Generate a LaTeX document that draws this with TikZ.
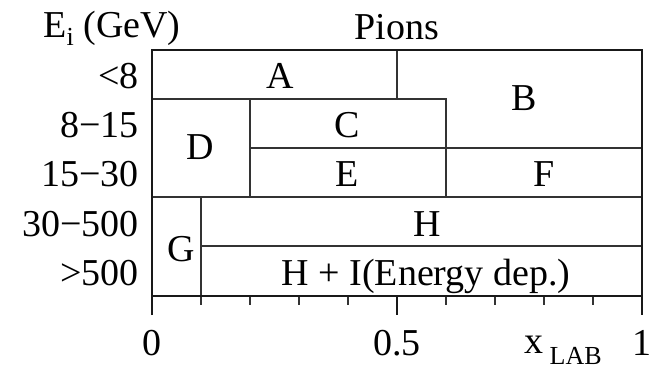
\documentclass[tikz,border=0pt]{standalone}
\usepackage{fontspec}
\setmainfont{Liberation Serif}
\begin{document}
\begin{tikzpicture}[x=1pt,y=-1pt,
  font=\fontsize{38}{42}\selectfont,
  frame/.style={line width=2.8pt, black!90},
  grid/.style={line width=1.6pt, black!80},
  lbl/.style={anchor=base, inner sep=0pt},
  ylbl/.style={anchor=base east, inner sep=0pt}]
\useasboundingbox (0,0) rectangle (653,371);
% inner lines
\draw[grid] (397,50) -- (397,99);
\draw[grid] (152,99) -- (446,99) -- (446,197);
\draw[grid] (250,99) -- (250,197);
\draw[grid] (250,148) -- (642,148);
\draw[grid] (152,197) -- (642,197);
\draw[grid] (201,197) -- (201,296);
\draw[grid] (201,246) -- (642,246);
% minor ticks
\foreach \i in {1,2,3,4,6,7,8,9} \draw[grid] ({152+49*\i},296) -- ++(0,9);
% frame and major ticks
\draw[frame] (152,315) -- (152,50) -- (642,50) -- (642,315);
\draw[frame] (152,296) -- (642,296);
\draw[frame] (397,296) -- (397,315);
% header
\node[lbl] (ei) at (112,38) {E\raisebox{-8pt}{\fontsize{26}{28}\selectfont i} (GeV)};
\node[lbl] (pions) at (397,40) {Pions};
% row labels
\node[ylbl] (r1) at (139,89) {<8};
\node[ylbl] (r2) at (139,138) {8−15};
\node[ylbl] (r3) at (139,187) {15−30};
\node[ylbl] (r4) at (139,237) {30−500};
\node[ylbl] (r5) at (139,286) {>500};
% cells
\node[lbl] (A) at (280,89) {A};
\node[lbl] (B) at (524,111) {B};
\node[lbl] (C) at (347,138) {C};
\node[lbl] (D) at (200,160) {D};
\node[lbl] (E) at (347,187) {E};
\node[lbl] (F) at (544,187) {F};
\node[lbl] (G) at (181,262) {G};
\node[lbl] (H) at (427,237) {H};
\node[lbl] (HI) at (426,286) {H + I(Energy dep.)};
% axis labels
\node[lbl] (x0) at (152,355) {0};
\node[lbl] (x05) at (397,355) {0.5};
\node[lbl] (x1) at (642,355) {1};
\node[lbl] (xlab) at (563,353) {x\,\raisebox{-11pt}{\fontsize{26}{28}\selectfont LAB}};
\end{tikzpicture}
\end{document}
